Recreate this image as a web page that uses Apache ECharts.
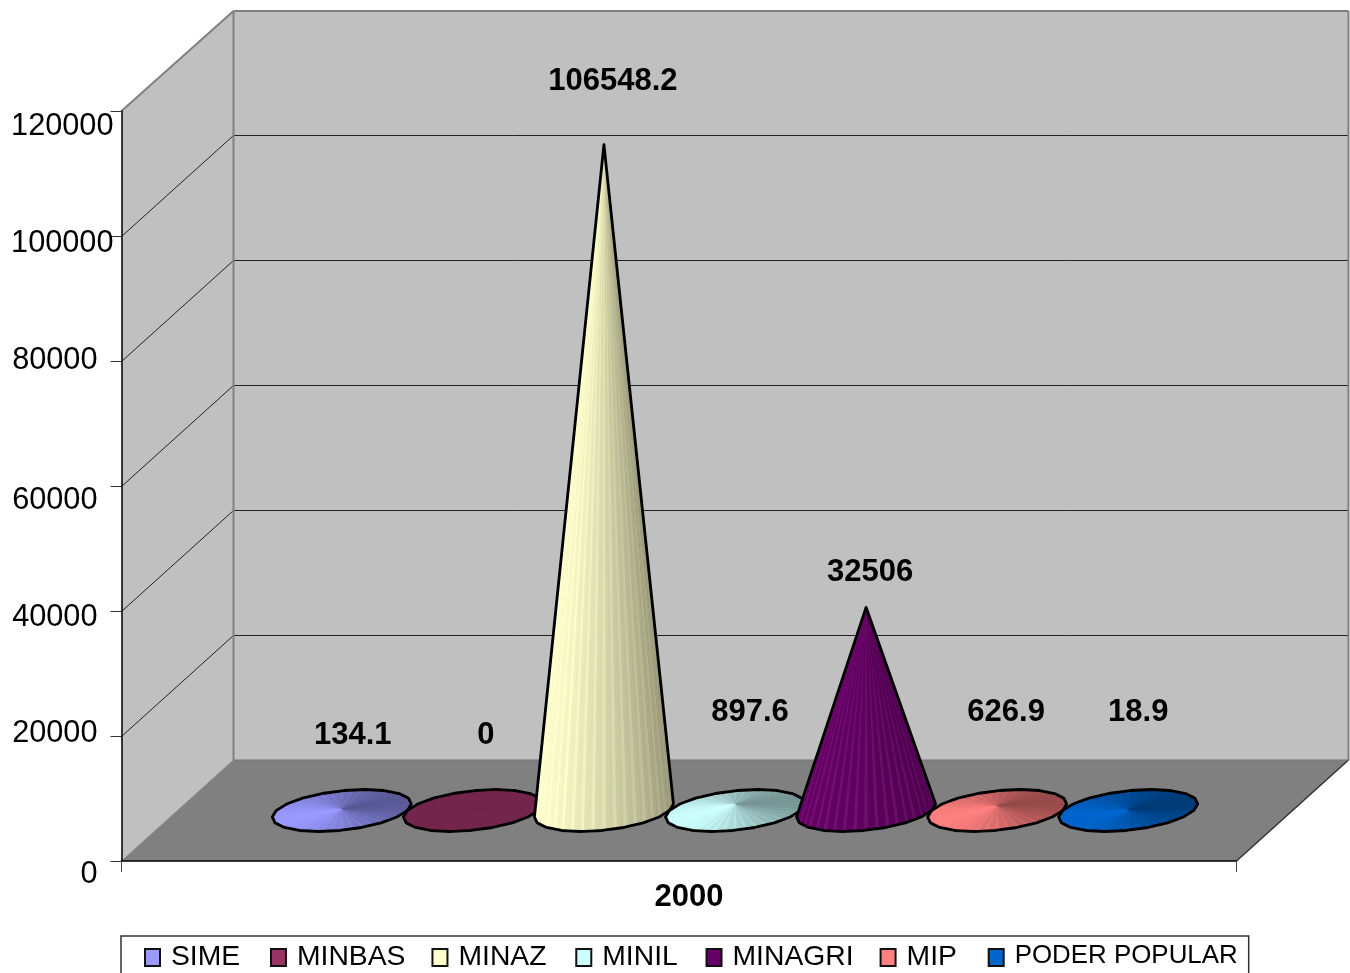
<!DOCTYPE html>
<html><head><meta charset="utf-8">
<style>html,body{margin:0;padding:0;background:#fff}#c{width:1350px;height:973px}</style>
<script src="https://cdn.jsdelivr.net/npm/echarts@6/dist/echarts.min.js"></script>
</head><body><div id="c"></div>
<script>
const categories = ['2000'];
const seriesNames = ['SIME','MINBAS','MINAZ','MINIL','MINAGRI','MIP','PODER POPULAR'];
const seriesValues = [134.1,0,106548.2,897.6,32506,626.9,18.9];
const seriesColors = ['#9999FF','#993366','#FFFFCC','#CCFFFF','#660066','#FF8080','#0066CC'];
const yTicks = [0,20000,40000,60000,80000,100000,120000];

const FONT = '"Liberation Sans", Arial, sans-serif';
const DEPTH = [112,-101];
const SPACING = 0.11755;
const DISC_DEPTH = 0.208;
const LABEL_NUDGE = [[11,-74],[13,-75],[9,-63],[15,-92],[4,-35],[9,-94],[10,-98]];
const Y_NUDGE = {0:[16,14],20000:[16,-2],40000:[16,7],60000:[16,15],80000:[16,0],100000:[0,8],120000:[0,16]};
const LEGEND_EXTRA = [4.8,1,3.8,2.8,1,5.8,0];

function shade(hex,f,add){
  const n=parseInt(hex.slice(1),16);
  const c=[n>>16&255,n>>8&255,n&255].map(v=>Math.min(255,Math.round(v*f)+(add||0)));
  return 'rgb('+c.join(',')+')';
}
function hull(pts){
  const p=pts.slice().sort((a,b)=>a[0]-b[0]||a[1]-b[1]);
  const cr=(o,a,b)=>(a[0]-o[0])*(b[1]-o[1])-(a[1]-o[1])*(b[0]-o[0]);
  const lo=[],up=[];
  for(const q of p){while(lo.length>1&&cr(lo[lo.length-2],lo[lo.length-1],q)<=0)lo.pop();lo.push(q);}
  for(const q of p.reverse()){while(up.length>1&&cr(up[up.length-2],up[up.length-1],q)<=0)up.pop();up.push(q);}
  return lo.slice(0,-1).concat(up.slice(0,-1));
}
function wallItem(params,api){
  const o=api.coord([0,0]);
  const bw=api.size([1,0])[0];
  const top=api.coord([0,yTicks[yTicks.length-1]]);
  const x0=o[0]-bw/2, x1=o[0]+bw/2, y0=o[1], y1=top[1];
  const dx=DEPTH[0], dy=DEPTH[1];
  const kids=[];
  const poly=(points,fill)=>kids.push({type:'polygon',shape:{points},style:{fill}});
  const line=(a,b,stroke,lw)=>kids.push({type:'line',shape:{x1:a[0],y1:a[1],x2:b[0],y2:b[1]},style:{stroke,lineWidth:lw}});
  poly([[x0+dx,y1+dy+1],[x1+dx,y1+dy+1],[x1+dx,y0+dy],[x0+dx,y0+dy]],'#C0C0C0');
  poly([[x0,y1],[x0+dx,y1+dy+1],[x0+dx,y0+dy],[x0,y0]],'#C0C0C0');
  poly([[x0,y0],[x1,y0],[x1+dx,y0+dy],[x0+dx,y0+dy]],'#808080');
  yTicks.slice(1,-1).forEach(v=>{
    const y=api.coord([0,v])[1]+0.5;
    line([x0,y],[x0+dx,y+dy],'#222',1);
    line([x0+dx,y+dy],[x1+dx,y+dy],'#222',1);
  });
  line([x0,y1],[x0+dx,y1+dy+1],'#808080',2);
  line([x0+dx,y1+dy+1],[x1+dx,y1+dy+1],'#808080',2);
  line([x1+dx,y1+dy+1],[x1+dx,y0+dy],'#808080',2);
  line([x0+dx,y1+dy+1],[x0+dx,y0+dy],'#808080',2);
  line([x0,y0],[x0+dx,y0+dy],'#8a8a8a',1);
  line([x1,y0],[x1+dx,y0+dy],'#333',1.5);
  line([x0+dx,y0+dy],[x1+dx,y0+dy],'#777',1);
  return {type:'group',silent:true,children:kids};
}
function coneItem(i){
  return function(params,api){
    const value=api.value(1);
    const o=api.coord([api.value(0),0]);
    const v=api.coord([api.value(0),value]);
    const bw=api.size([1,0])[0];
    const sp=bw*SPACING;
    const cx=o[0]+(i-3)*sp+DEPTH[0]/2, cy=o[1]+DEPTH[1]/2;
    const ax=sp/2, sx=DEPTH[0]*DISC_DEPTH, sy=DEPTH[1]*DISC_DEPTH;
    const apex=[cx,cy+(v[1]-o[1])];
    const color=seriesColors[i];
    const dark=color==='#660066';
    const pos=t=>[cx+ax*Math.cos(t)+sx*Math.sin(t),cy+sy*Math.sin(t)];
    const OUT=20,SUB=6,N=OUT*SUB;
    const rim=[];
    for(let k=0;k<OUT;k++){
      const a=pos(k*2*Math.PI/OUT),b=pos((k+1)*2*Math.PI/OUT);
      for(let s=0;s<SUB;s++){const f=s/SUB;rim.push([a[0]+(b[0]-a[0])*f,a[1]+(b[1]-a[1])*f]);}
    }
    // apex direction in the floor's own basis decides which facets face the viewer
    const w=(apex[1]-cy)/sy, u=-sx*w/ax;
    const facets=[];
    for(let k=0;k<N;k++){
      const t=(k+.5)*2*Math.PI/N;
      const d=Math.cos(t)*u+Math.sin(t)*w;
      if(d>1.03) continue;
      let b=(dark?0.88+0.12*Math.cos(t-3.75):0.78+0.22*Math.cos(t-3.75));
      let add=0;
      if(value===0) b=0.75;
      else if(k%3===0){ if(dark) add=16; else b+=0.05; }
      facets.push({k,b,d,add});
    }
    facets.sort((p,q)=>q.d-p.d);
    const outline=hull(rim.concat([apex]));
    const kids=[{type:'polygon',shape:{points:outline},style:{fill:shade(color,0.85)}}];
    facets.forEach(f=>{
      const c=shade(color,f.b,f.add);
      kids.push({type:'polygon',shape:{points:[rim[f.k],rim[(f.k+1)%N],apex]},style:{fill:c,stroke:c,lineWidth:.4}});
    });
    kids.push({type:'polygon',shape:{points:outline},style:{fill:'none',stroke:'#000',lineWidth:2.8,lineJoin:'round'}});
    const nudge=LABEL_NUDGE[i];
    kids.push({type:'text',x:cx+nudge[0],y:apex[1]+nudge[1],style:{text:String(value),fill:'#000',
      font:'bold 31px '+FONT,align:'center',verticalAlign:'middle'}});
    return {type:'group',children:kids};
  };
}
const yRich={};
yTicks.forEach(v=>{
  const n=Y_NUDGE[v],d=n[1];
  yRich['t'+v]={fontSize:30.7,fontFamily:FONT,color:'#000',
    padding:[d>0?2*d:0,n[0],d<0?-2*d:0,0]};
});
const legendRich={
  name:{fontFamily:FONT,fontSize:28.3,color:'#000',padding:[0,0,0,6]},
  last:{fontFamily:FONT,fontSize:25.9,color:'#000',padding:[0,0,3,6]}
};
// the trailing no-break space is what widens each legend gap: its width is 0.278 of its font size
LEGEND_EXTRA.forEach((e,i)=>{legendRich['g'+i]={fontFamily:FONT,fontSize:e/0.278};});
const chart=echarts.init(document.getElementById('c'),null,{renderer:'canvas',width:1350,height:973});
chart.setOption({
  animation:false,
  backgroundColor:'#fff',
  grid:{left:121.5,top:111,width:1115,height:750,containLabel:false},
  xAxis:{type:'category',data:categories,z:6,
    axisLine:{show:true,lineStyle:{color:'#000',width:1.5}},
    axisTick:{show:true,length:11,lineStyle:{color:'#444',width:1}},
    axisLabel:{margin:21,formatter:v=>'{a|'+v+'}',
      rich:{a:{fontSize:31,fontWeight:'bold',fontFamily:FONT,color:'#000',padding:[0,0,0,20]}}}},
  yAxis:{type:'value',min:0,max:120000,interval:20000,z:6,
    splitLine:{show:false},
    axisLine:{show:true,lineStyle:{color:'#000',width:1.5}},
    axisTick:{show:true,length:11,lineStyle:{color:'#333',width:1}},
    axisLabel:{margin:8,formatter:v=>'{t'+v+'|'+v+'}',rich:yRich}},
  legend:{
    left:121,top:936,orient:'horizontal',
    padding:[7,11,34,23],
    itemGap:25,itemWidth:15,itemHeight:17,
    borderColor:'#333',borderWidth:1.5,backgroundColor:'#fff',
    selectedMode:false,icon:'rect',
    textStyle:{fontFamily:FONT,fontSize:28,color:'#000',rich:legendRich},
    formatter:name=>{
      const i=seriesNames.indexOf(name);
      return '{'+(i===6?'last':'name')+'|'+name+'}'+(LEGEND_EXTRA[i]?'{g'+i+'|\u00a0}':'');
    },
    data:seriesNames.map((name,i)=>({name,icon:'rect',
      itemStyle:{color:seriesColors[i],borderColor:'#111',borderWidth:2}}))
  },
  series:[{type:'custom',name:'walls',z:1,silent:true,clip:false,renderItem:wallItem,data:[[0,0]],encode:{x:0,y:1}}]
    .concat(seriesNames.map((name,i)=>({type:'custom',name,z:2+i,clip:false,
      itemStyle:{color:seriesColors[i]},renderItem:coneItem(i),
      data:[[0,seriesValues[i]]],encode:{x:0,y:1}})))
});
</script></body></html>
